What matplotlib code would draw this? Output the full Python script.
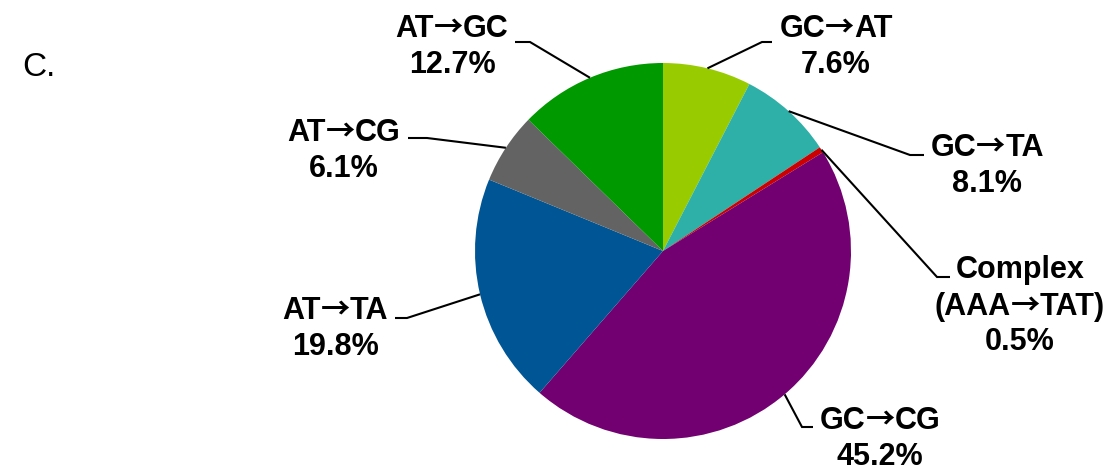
import numpy as np
import matplotlib
matplotlib.use("Agg")
import matplotlib.pyplot as plt
from matplotlib.offsetbox import TextArea, HPacker, VPacker, AnnotationBbox

# Mutation spectrum (percent of all mutations), clockwise from 12 o'clock
categories = ["GC→AT", "GC→TA", "Complex\n(AAA→TAT)", "GC→CG", "AT→TA", "AT→CG", "AT→GC"]
percents = [7.6, 8.1, 0.5, 45.2, 19.8, 6.1, 12.7]
colors = ["#99CC00", "#2EB0A8", "#CC0000", "#720070", "#005595", "#636363", "#009900"]

W, H = 1114, 469

# Layout in pixel units (y measured from the top edge)
pie_center = (663, 251)
pie_radius = 188
# label block: centre x, top of first line
label_pos = [(836, 13), (987, 132), (1020, 255), (880, 405),
             (335, 295), (344, 117), (452, 13)]
# leader: x at the text end, x at the elbow, y of the horizontal stub
leader = [(772, 762, 42), (924, 910, 155), (950, 937, 277), (813, 802, 427),
          (395, 407, 318), (408, 427, 138), (515, 530, 42)]

text_style = dict(fontsize=22, fontweight="bold", family="Liberation Sans", color="black")
arrow_style = dict(fontsize=21, fontweight="bold", family="Noto Sans CJK SC", color="black")


def text_line(s):
    """One label line; the arrow glyph comes from a font with a chevron-headed arrow."""
    parts = s.split("→")
    kids = []
    for i, p in enumerate(parts):
        if i > 0:
            kids.append(TextArea("→", textprops=arrow_style))
        if p:
            kids.append(TextArea(p, textprops=text_style))
    if len(kids) == 1:
        return kids[0]
    return HPacker(children=kids, align="baseline", pad=0, sep=0)


fig = plt.figure(figsize=(W / 100, H / 100), dpi=100)
ax = fig.add_axes([0, 0, 1, 1])

wedges, _ = ax.pie(percents, colors=colors, startangle=90, counterclock=False,
                   center=(pie_center[0], H - pie_center[1]), radius=pie_radius,
                   wedgeprops=dict(linewidth=0))

for w, cat, val, (tx, ty), (xt, xe, yl) in zip(wedges, categories, percents,
                                               label_pos, leader):
    mid = np.deg2rad((w.theta1 + w.theta2) / 2)
    px = pie_center[0] + pie_radius * np.cos(mid)
    py = (H - pie_center[1]) + pie_radius * np.sin(mid)
    ax.plot([px, xe, xt], [py, H - yl, H - yl], color="black", lw=1.5,
            solid_capstyle="butt", solid_joinstyle="miter", zorder=3)

    lines = [text_line(s) for s in cat.split("\n")]
    lines.append(TextArea(f"{val:.1f}%", textprops=text_style))
    block = VPacker(children=lines, align="center", pad=0, sep=4)
    ab = AnnotationBbox(block, (tx, H - ty), xycoords="data",
                        box_alignment=(0.5, 1), frameon=False, pad=0,
                        annotation_clip=False)
    ax.add_artist(ab)

ax.text(22, H - 76, "C.", ha="left", va="baseline", fontsize=24,
        family="Liberation Sans", color="black")

ax.set_xlim(0, W)
ax.set_ylim(0, H)
ax.set_aspect("equal")
ax.axis("off")

fig.savefig("out.png", dpi=100, facecolor="white")
